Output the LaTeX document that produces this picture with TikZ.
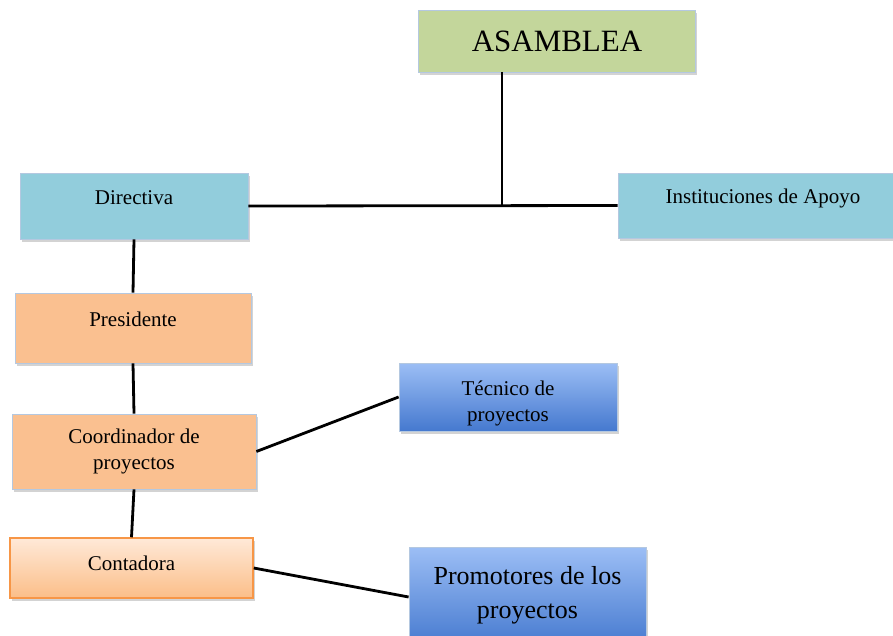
\documentclass[tikz,border=0pt]{standalone}
\usepackage{fontspec}
\setmainfont{Liberation Serif}
\usetikzlibrary{shadows}
\definecolor{asamgreen}{HTML}{C3D69B}
\definecolor{dirblue}{HTML}{92CDDC}
\definecolor{presorange}{HTML}{FAC090}
\definecolor{boxline}{HTML}{B4C8E0}
\definecolor{tectop}{HTML}{9CBEF5}
\definecolor{tecbottom}{HTML}{4579CF}
\definecolor{conttop}{HTML}{FFE9D8}
\definecolor{contbottom}{HTML}{FBBE88}
\definecolor{contline}{HTML}{F79646}

\begin{document}
\begin{tikzpicture}[x=1pt,y=-1pt,
	orgbox/.style={draw=boxline,line width=0.8pt,inner sep=0pt,align=center,font=\fontsize{21}{26}\selectfont,drop shadow={shadow xshift=1.5pt,shadow yshift=-3pt,opacity=0.35}},
	uptext/.style={text height=14pt,text depth=18pt},
	link/.style={line width=2.8pt}]
	\path[use as bounding box] (0,0) rectangle (893,635);
	\clip (0,0) rectangle (893,635);
	% top and second level
	\node[orgbox,fill=asamgreen,minimum width=277,minimum height=62,font=\fontsize{31}{36}\selectfont] (asam) at (557,41) {ASAMBLEA};
	\node[orgbox,uptext,fill=dirblue,minimum width=228,minimum height=66] (dir) at (134,206) {Directiva};
	\node[orgbox,uptext,fill=dirblue,minimum width=290,minimum height=65] (inst) at (763,205.5) {Instituciones de Apoyo};
	% left column
	\node[orgbox,uptext,fill=presorange,minimum width=236,minimum height=70] (pres) at (133,328) {Presidente};
	\node[orgbox,fill=presorange,minimum width=244,minimum height=75] (coord) at (134,451.5) {Coordinador de\\proyectos};
	\node[orgbox,draw=contline,line width=1.5pt,top color=conttop,bottom color=contbottom,minimum width=243,minimum height=60,text height=14pt,text depth=10pt] (cont) at (131.5,568) {Contadora};
	% right side
	\node[orgbox,top color=tectop,bottom color=tecbottom,minimum width=218,minimum height=68,text height=53pt,text depth=5pt] (tec) at (508,397) {T\'ecnico de\\proyectos};
	\node[orgbox,top color=tectop,bottom color=tecbottom,minimum width=237,minimum height=100,font=\fontsize{26}{34}\selectfont,text height=48pt,text depth=5.5pt] (prom) at (527.5,597) {Promotores de los\\proyectos};
	\coordinate (junc) at (502,206);
	\draw[link] (asam.south -| junc) -- (junc);
	\draw[link] (dir.east) -- (inst.west);
	\draw[link] (dir.south) -- (pres.north);
	\draw[link] (pres.south) -- (coord.north);
	\draw[link] (coord.south) -- (cont.north);
	\draw[link] (coord.east) -- (tec.west);
	\draw[link] (cont.east) -- (prom.west);
\end{tikzpicture}
\end{document}
